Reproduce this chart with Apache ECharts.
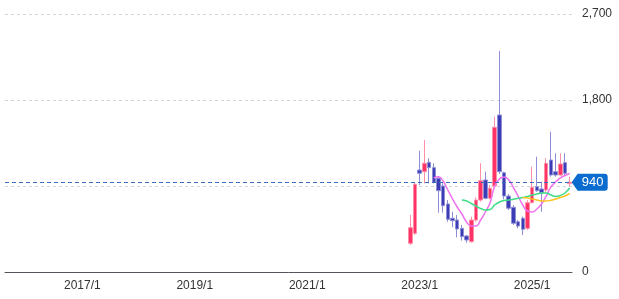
<!DOCTYPE html>
<html>
<head>
<meta charset="utf-8">
<script src="https://cdn.jsdelivr.net/npm/echarts@6.0.0/dist/echarts.min.js"></script>
<style>
  html, body { margin: 0; padding: 0; background: #fff; }
  #myChart { width: 619px; height: 299px; }
</style>
</head>
<body>
<div id="myChart"></div>
<script>
// axis runs monthly from 2015/9 to 2025/9, candles only exist from 2022/11
const axisStart = [2015, 9];
const axisEnd = [2025, 9];
const xTickLabels = ['2017/1', '2019/1', '2021/1', '2023/1', '2025/1'];
const yTicks = [0, 900, 1800, 2700];

const candleMonths = [
  '2022/11', '2022/12', '2023/1', '2023/2', '2023/3', '2023/4', '2023/5', '2023/6',
  '2023/7', '2023/8', '2023/9', '2023/10', '2023/11', '2023/12', '2024/1', '2024/2',
  '2024/3', '2024/4', '2024/5', '2024/6', '2024/7', '2024/8', '2024/9', '2024/10',
  '2024/11', '2024/12', '2025/1', '2025/2', '2025/3', '2025/4', '2025/5', '2025/6',
  '2025/7', '2025/8', '2025/9'
];
const open  = [300, 405, 1067, 1050, 1148, 1092, 981, 900, 712, 562, 544, 457, 377, 317, 544, 753,
               963, 771, 900, 1643, 1039, 795, 677, 526, 562, 457, 725, 893, 869, 858, 1172, 1050,
               1015, 1144, 925];
const close = [464, 918, 1033, 1138, 1092, 939, 851, 694, 551, 537, 450, 370, 335, 544, 753, 955,
               771, 876, 1514, 1050, 795, 667, 510, 481, 447, 725, 886, 851, 830, 1138, 1015, 1015,
               1130, 1033, 940];
const low   = [283, 387, 910, 928, 928, 928, 621, 621, 526, 468, 363, 328, 307, 307, 526, 736,
               761, 761, 886, 1026, 761, 649, 492, 457, 387, 440, 719, 840, 631, 840, 997, 997,
               1005, 1015, 893];
const high  = [596, 934, 1269, 1381, 1190, 1138, 997, 928, 753, 631, 596, 492, 387, 579, 782, 1138,
               1050, 910, 1625, 2313, 1050, 816, 701, 544, 579, 753, 1102, 1207, 945, 1190, 1468, 1242,
               1242, 1242, 997];

// moving averages as drawn (pink / green / orange)
const maShort = [null, null, null, null, null, 984, 997, 952, 858, 764, 680, 607, 523, 481, 481, 544,
                 628, 722, 900, 973, 994, 963, 884, 795, 701, 638, 628, 659, 712, 795, 890, 942,
                 984, 1010, 1031];
const maMid   = [null, null, null, null, null, null, null, null, null, null, null, 753, 743, 717, 691, 665,
                 649, 654, 701, 733, 748, 753, 761, 771, 780, 790, 806, 816, 827, 827, 806, 790,
                 801, 827, 879];
const maLong  = [null, null, null, null, null, null, null, null, null, null, null, null, null, null, null, null,
                 null, null, null, null, null, null, null, null, 780, 774, 764, 753, 743, 743, 750, 764,
                 780, 795, 822];

const lastPrice = close[close.length - 1];

const axisMonths = [];
for (let y = axisStart[0], m = axisStart[1]; y < axisEnd[0] || (y === axisEnd[0] && m <= axisEnd[1]); ) {
  axisMonths.push(y + '/' + m);
  m++;
  if (m > 12) { m = 1; y++; }
}

const pos = new Map(candleMonths.map((m, i) => [m, i]));
const candleData = axisMonths.map(m => {
  const i = pos.get(m);
  return i === undefined ? '-' : [open[i], close[i], low[i], high[i]];
});
const lineData = arr => axisMonths.map(m => {
  const i = pos.get(m);
  return i === undefined || arr[i] == null ? '-' : arr[i];
});

const font = '"Liberation Sans", Arial, sans-serif';

const option = {
  animation: false,
  grid: { top: 14, left: 5, right: 47, bottom: 27 },
  xAxis: {
    type: 'category',
    data: axisMonths,
    boundaryGap: true,
    axisLine: { show: true, lineStyle: { color: '#50565c', width: 1 } },
    axisTick: { show: false },
    splitLine: { show: false },
    axisLabel: {
      interval: (i, v) => xTickLabels.includes(v),
      margin: 8,
      color: '#333',
      fontSize: 12,
      fontFamily: font
    }
  },
  yAxis: {
    type: 'value',
    position: 'right',
    min: yTicks[0],
    max: yTicks[yTicks.length - 1],
    interval: 900,
    axisLine: { show: false },
    axisTick: { show: false },
    splitLine: { show: true, lineStyle: { type: [3, 3], color: '#d4d4d4' } },
    axisLabel: {
      margin: 10,
      align: 'left',
      color: '#333',
      fontSize: 12,
      fontFamily: font,
      formatter: v => (v === 900 ? '' : v.toLocaleString('en-US'))
    }
  },
  series: [
    {
      type: 'candlestick',
      data: candleData,
      barWidth: 4,
      itemStyle: {
        color: '#ff3366',
        color0: '#3c3cb4',
        borderColor: '#ff8ea8',
        borderColor0: '#8d8dd8',
        borderWidth: 1
      },
      markLine: {
        symbol: 'none',
        silent: true,
        label: { show: false },
        lineStyle: { type: [4, 3], color: '#3c6cc0', width: 1 },
        data: [{ yAxis: lastPrice }]
      },
      markPoint: {
        silent: true,
        data: [{
          coord: [candleMonths[candleMonths.length - 1], lastPrice],
          symbol: 'path://M0,8.5 L6,0 L33,0 Q36,0 36,3 L36,14 Q36,17 33,17 L6,17 Z',
          symbolSize: [36, 17],
          symbolOffset: [20, 0],
          itemStyle: { color: '#0b6ccf' },
          label: {
            show: true,
            position: 'inside',
            offset: [3, 0],
            formatter: String(lastPrice),
            color: '#fff',
            fontSize: 13,
            fontFamily: font
          }
        }]
      }
    },
    {
      type: 'line',
      data: lineData(maShort),
      smooth: true,
      symbol: 'none',
      lineStyle: { color: '#ef72ef', width: 1.5 }
    },
    {
      type: 'line',
      data: lineData(maMid),
      smooth: true,
      symbol: 'none',
      lineStyle: { color: '#3edc86', width: 1.5 }
    },
    {
      type: 'line',
      data: lineData(maLong),
      smooth: true,
      symbol: 'none',
      lineStyle: { color: '#ffc21f', width: 1.5 }
    }
  ]
};

const myChart = echarts.init(document.getElementById('myChart'));
myChart.setOption(option);
</script>
</body>
</html>
